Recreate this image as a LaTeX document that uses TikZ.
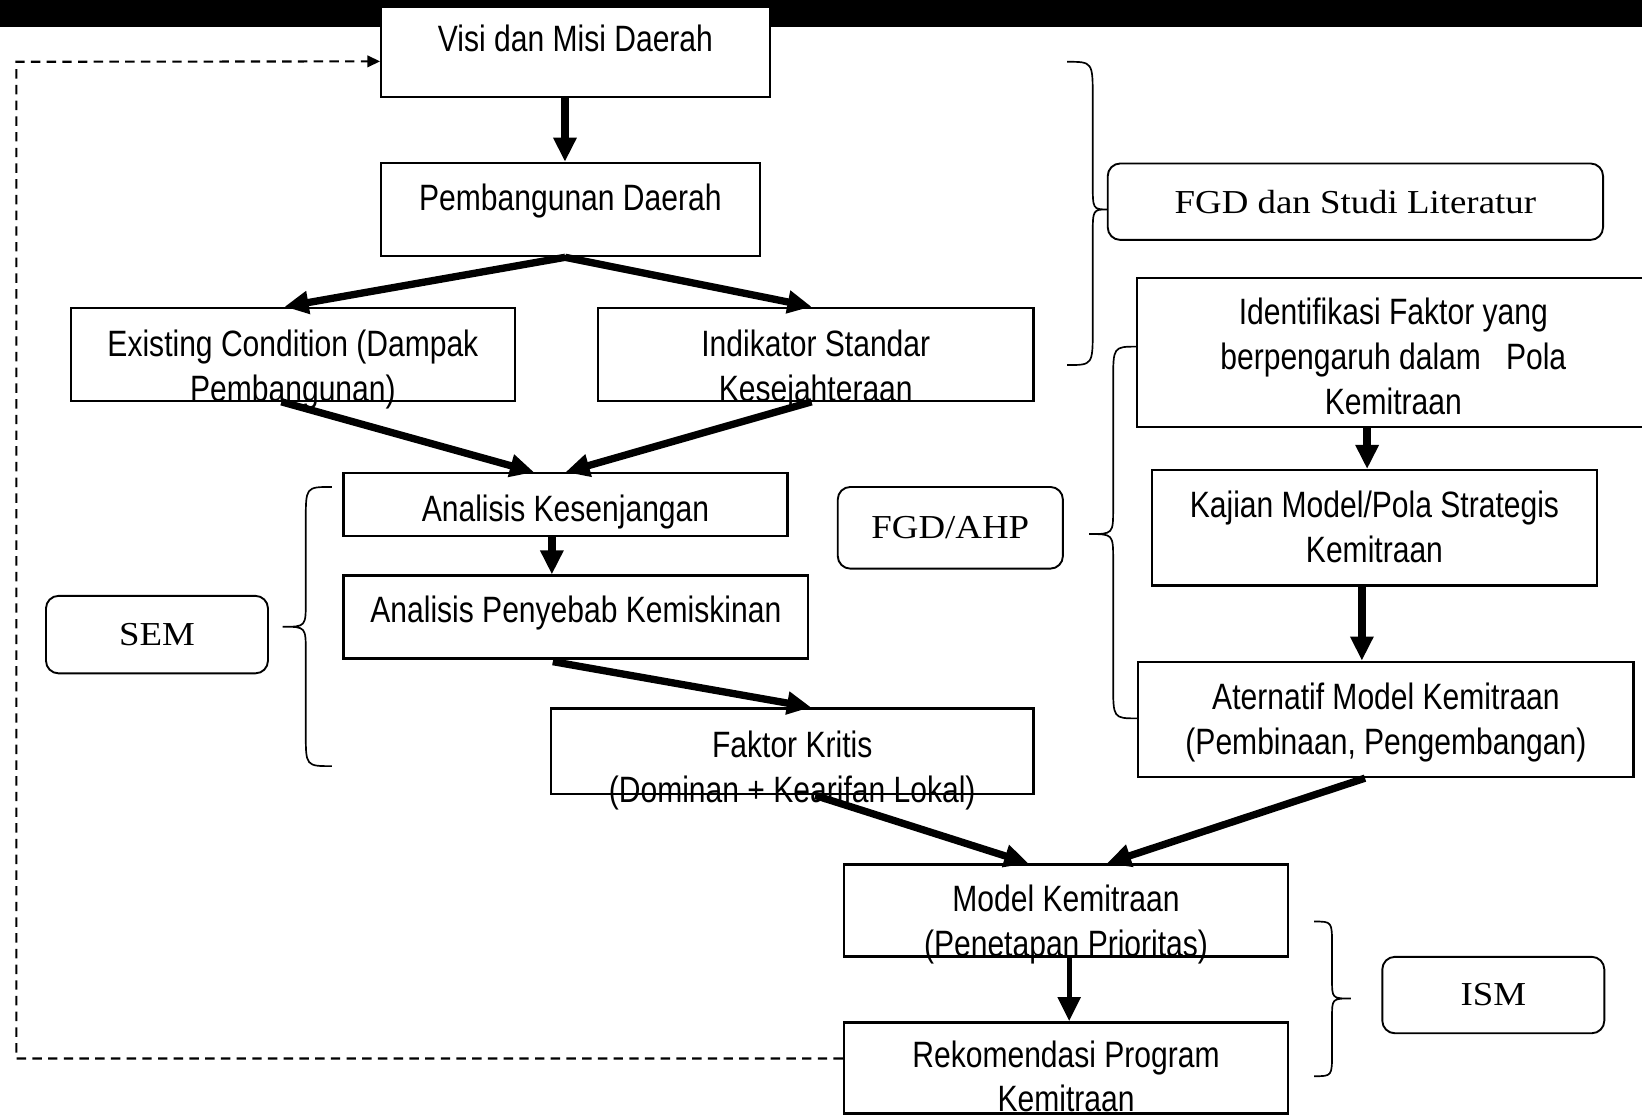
\documentclass[tikz,border=0pt]{standalone}
\usepackage{fontspec}
\usetikzlibrary{positioning,calc,arrows.meta}
\newfontfamily\narrowfont[FakeStretch=0.82]{Liberation Sans}
\newfontfamily\methodfont[FakeStretch=1.1]{Liberation Serif}

\begin{document}
\begin{tikzpicture}[
  x=1pt, y=-1pt,
  box/.style={draw, line width=2.2pt, fill=white, inner sep=0pt},
  method/.style={draw, line width=1.8pt, rounded corners=12pt, inner sep=0pt,
    font=\methodfont\fontsize{32}{38}\selectfont},
  box text/.style={font=\narrowfont\fontsize{35}{43}\selectfont, align=center, inner sep=0pt},
  flow/.style={line width=7pt, -{Triangle[length=23pt,width=21pt]}},
  feedback/.style={line width=2pt, dash pattern=on 9pt off 6pt, -{Triangle[length=12pt,width=11pt]}},
  curly/.style={line width=1.6pt},
  ]
  \clip (0,0) rectangle (1568,1065);
  \fill (0,0) rectangle (1568,26);

  % main flow boxes
  \node [box, minimum width=371pt, minimum height=86pt] (visi) at (549.5,49.6) {};
  \node [box, minimum width=362pt, minimum height=89pt] (pembangunan) at (544.7,200.1) {};
  \node [box, minimum width=424pt, minimum height=88.6pt] (existing) at (279.7,338.3) {};
  \node [box, minimum width=416pt, minimum height=88.6pt] (indikator) at (779,338.3) {};
  \node [box, minimum width=424pt, minimum height=59.6pt] (kesenjangan) at (540,481.8) {};
  \node [box, minimum width=444pt, minimum height=79pt] (penyebab) at (549.9,589.2) {};
  \node [box, minimum width=461pt, minimum height=82pt] (faktor-kritis) at (756.5,717.5) {};
  \node [box, minimum width=424pt, minimum height=88pt] (model) at (1018,869.5) {};
  \node [box, minimum width=424pt, minimum height=87pt] (rekomendasi) at (1018,1019.8) {};
  \node [box, minimum width=489pt, minimum height=142pt] (identifikasi) at (1330.5,336.7) {};
  \node [box, minimum width=425pt, minimum height=110pt] (kajian) at (1312.5,504) {};
  \node [box, minimum width=473pt, minimum height=110pt] (alternatif) at (1323.5,687) {};

  \node [box text, below=18.5pt of visi.north] (visi-text) {Visi dan Misi Daerah};
  \node [box text, below=20.5pt of pembangunan.north] (pembangunan-text) {Pembangunan Daerah};
  \node [box text, below=21.5pt of existing.north] (existing-text)
    {Existing Condition (Dampak\\Pembangunan)};
  \node [box text, below=21.5pt of indikator.north] (indikator-text)
    {Indikator Standar\\Kesejahteraan};
  \node [box text, below=22pt of kesenjangan.north] (kesenjangan-text) {Analisis Kesenjangan};
  \node [box text, below=20.5pt of penyebab.north] (penyebab-text) {Analisis Penyebab Kemiskinan};
  \node [box text, below=22pt of faktor-kritis.north] (faktor-kritis-text)
    {Faktor Kritis\\(Dominan + Kearifan Lokal)};
  \node [box text, below=20pt of model.north] (model-text)
    {Model Kemitraan\\(Penetapan Prioritas)};
  \node [box text, below=19pt of rekomendasi.north,
    font=\narrowfont\fontsize{35}{41.5}\selectfont] (rekomendasi-text)
    {Rekomendasi Program\\Kemitraan};
  \node [box text, below=20pt of identifikasi.north] (identifikasi-text)
    {Identifikasi Faktor yang\\berpengaruh dalam\ \ \ Pola\\Kemitraan};
  \node [box text, below=20.5pt of kajian.north] (kajian-text)
    {Kajian Model/Pola Strategis\\Kemitraan};
  \node [box text, below=21.5pt of alternatif.north] (alternatif-text)
    {Aternatif Model Kemitraan\\(Pembinaan, Pengembangan)};

  % methods and their braces
  \node [method, minimum width=473pt, minimum height=73pt] (fgd-literatur) at (1294.3,192.6)
    {FGD dan Studi Literatur};
  \node [method, minimum width=215pt, minimum height=78pt] (fgd-ahp) at (907.5,504) {FGD/AHP};
  \node [method, minimum width=212pt, minimum height=74pt] (sem) at (149.9,606) {SEM};
  \node [method, minimum width=212pt, minimum height=73pt] (ism) at (1426,950.2) {ISM};

  \draw [curly] (1019,59) .. controls (1043.5,59) .. (1043.5,94) -- (1043.5,175)
    .. controls (1043.5,200) .. (1058,200) .. controls (1043.5,200) .. (1043.5,225)
    -- (1043.5,314) .. controls (1043.5,348.6) .. (1019,348.6);
  \draw [curly] (1086,331) .. controls (1063,331) .. (1063,364) -- (1063,485)
    .. controls (1063,510) .. (1040,510) .. controls (1063,510) .. (1063,535)
    -- (1063,653) .. controls (1063,686) .. (1086,686);
  \draw [curly] (317,465) .. controls (292,465) .. (292,497) -- (292,574)
    .. controls (292,598.5) .. (270,598.5) .. controls (292,598.5) .. (292,623)
    -- (292,700) .. controls (292,731.6) .. (317,731.6);
  \draw [curly] (1255,880) .. controls (1272,880) .. (1272,903) -- (1272,935)
    .. controls (1272,953.5) .. (1290,953.5) .. controls (1272,953.5) .. (1272,972)
    -- (1272,1005) .. controls (1272,1027.7) .. (1255,1027.7);

  % arrows
  \draw [flow] ([xshift=-10pt]visi.south) -- ([xshift=-10pt]visi.south |- pembangunan.north);
  \draw [flow] ([xshift=-5pt]pembangunan.south) -- ([xshift=-8pt]existing.north);
  \draw [flow] ([xshift=-5pt]pembangunan.south) -- ([xshift=-4pt]indikator.north);
  \draw [flow] ([xshift=-11pt]existing.south) -- ([xshift=-30pt]kesenjangan.north);
  \draw [flow] ([xshift=-4pt]indikator.south) -- (kesenjangan.north);
  \draw [flow] ([xshift=-13pt]kesenjangan.south) -- ([xshift=-13pt]kesenjangan.south |- penyebab.north);
  \draw [flow] ([xshift=-22pt,yshift=-2pt]penyebab.south) -- ([xshift=18pt]faktor-kritis.north);
  \draw [flow] ([xshift=22pt]faktor-kritis.south) -- ([xshift=-36pt]model.north);
  \draw [flow] ([xshift=-20pt]alternatif.south) -- ([xshift=39pt]model.north);
  \draw [flow, line width=5pt] ([xshift=3pt]model.south) -- ([xshift=3pt]model.south |- rekomendasi.north);
  \draw [flow] ([xshift=-7pt]kajian.north |- identifikasi.south) -- ([xshift=-7pt]kajian.north);
  \draw [flow] ([xshift=-12pt]kajian.south) -- ([xshift=-12pt]kajian.south |- alternatif.north);

  \coordinate (loop-corner) at (15.6,59);
  \draw [feedback] ([yshift=9pt]rekomendasi.west) -| (loop-corner) -- ([yshift=-9pt]visi.west);
\end{tikzpicture}
\end{document}
